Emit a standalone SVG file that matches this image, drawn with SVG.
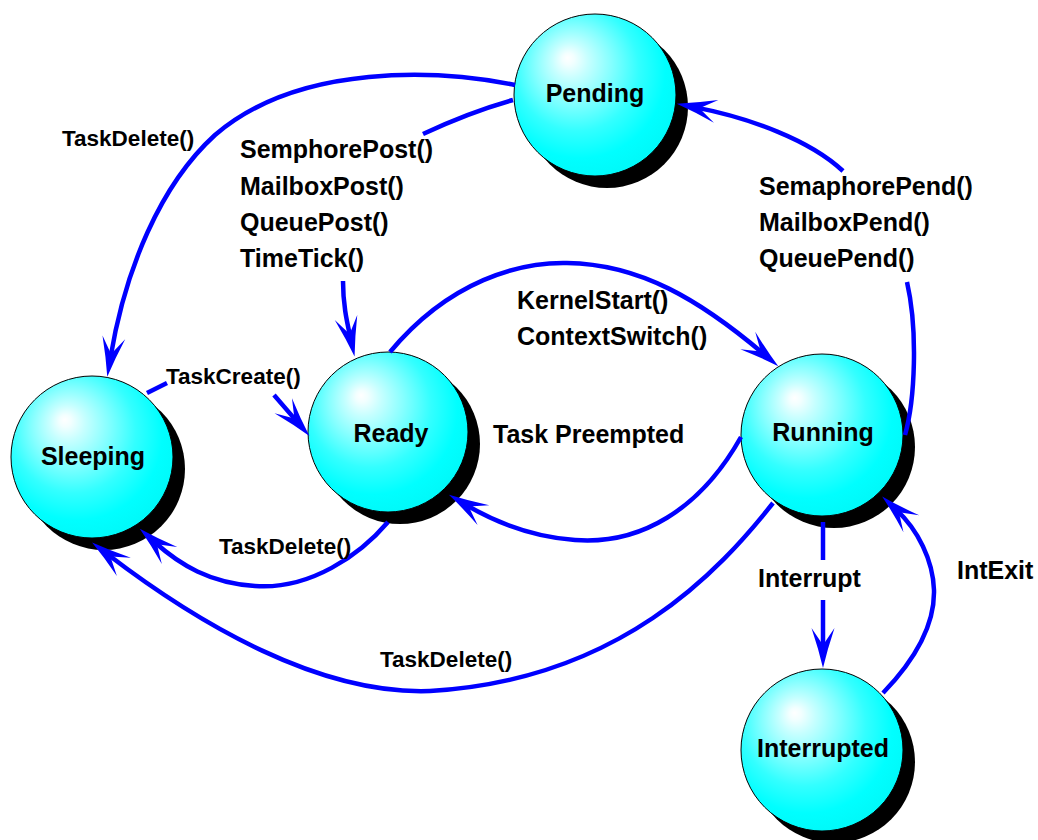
<svg xmlns="http://www.w3.org/2000/svg" width="1038" height="840" viewBox="0 0 1038 840">
<defs>
<radialGradient id="sph" cx="0.42" cy="0.38" r="0.62" fx="0.33" fy="0.27">
<stop offset="0" stop-color="#ffffff"/>
<stop offset="0.06" stop-color="#f2ffff"/>
<stop offset="0.18" stop-color="#c6ffff"/>
<stop offset="0.38" stop-color="#85ffff"/>
<stop offset="0.62" stop-color="#33ffff"/>
<stop offset="0.85" stop-color="#00ffff"/>
<stop offset="1" stop-color="#00fafa"/>
</radialGradient>
<marker id="ah" markerUnits="userSpaceOnUse" orient="auto" overflow="visible" markerWidth="1" markerHeight="1" refX="0" refY="0">
<path d="M19,0 Q0,-4.5 -21,-11.5 L-4,0 L-21,11.5 Q0,4.5 19,0 Z" fill="#0000ff"/>
</marker>
</defs>
<style>
.shadow{fill:#000}
.ball{fill:url(#sph);stroke:#000;stroke-width:1}
.nl{font-family:"Liberation Sans",Arial,sans-serif;font-weight:bold;font-size:25px;fill:#000;text-anchor:middle}
.lb{font-family:"Liberation Sans",Arial,sans-serif;font-weight:bold;font-size:25px;fill:#000}
.ls{font-family:"Liberation Sans",Arial,sans-serif;font-weight:bold;font-size:22.5px;fill:#000}
.c{fill:none;stroke:#0000ff;stroke-width:4.5}
.a{marker-end:url(#ah)}
</style>
<rect width="1038" height="840" fill="#fff"/>
<g id="pending">
<circle class="shadow" cx="607" cy="107" r="81"/>
<circle class="ball" cx="595" cy="95" r="81"/>
<text class="nl" x="595" y="102">Pending</text>
</g>
<g id="sleeping">
<circle class="shadow" cx="104" cy="469" r="81"/>
<circle class="ball" cx="92" cy="457" r="81"/>
<text class="nl" x="93" y="465">Sleeping</text>
</g>
<g id="ready">
<circle class="shadow" cx="400" cy="444" r="80"/>
<circle class="ball" cx="388" cy="432" r="80"/>
<text class="nl" x="391" y="442">Ready</text>
</g>
<g id="running">
<circle class="shadow" cx="834" cy="447" r="81"/>
<circle class="ball" cx="822" cy="435" r="81"/>
<text class="nl" x="823" y="441">Running</text>
</g>
<g id="interrupted">
<circle class="shadow" cx="834" cy="762" r="81"/>
<circle class="ball" cx="822" cy="750" r="81"/>
<text class="nl" x="823" y="757">Interrupted</text>
</g>
<g id="connectors">
<path class="c a" d="M515,85 C440,70 300,62 215,135 C160,185 125,270 110.4,358"/>
<path class="c a" d="M513,100 Q470,112 423,134 M343,281 C343,305 347,322 350.5,338"/>
<path class="c a" d="M905,435 C915,400 918,330 907,282 M843,171 C810,140 750,118 695.5,107.4"/>
<path class="c a" d="M390,352 C450,280 520,262 567,263 C640,264 700,300 763.8,354"/>
<path class="c a" d="M741,437 C700,510 640,545 575,540 C530,537 495,522 465.3,504.5"/>
<path class="c a" d="M388,522 C360,555 310,590 255,586 C210,583 180,565 153.9,541.5"/>
<path class="c a" d="M773,503 C720,570 620,680 430,691 C320,695 200,625 107.2,554"/>
<path class="c a" d="M823,522 L823,560 M823,600 L823,649"/>
<path class="c a" d="M883,693 C910,665 935,630 934,590 C933,560 918,530 896,509.4"/>
<path class="c a" d="M147,393 L167,383 M274,395 L297,421.6"/>
</g>
<g id="labels">
<text class="ls" x="62" y="146">TaskDelete()</text>
<text class="lb" x="240" y="158">SemphorePost()</text>
<text class="lb" x="240" y="195">MailboxPost()</text>
<text class="lb" x="240" y="231">QueuePost()</text>
<text class="lb" x="240" y="267">TimeTick()</text>
<text class="lb" x="759" y="195">SemaphorePend()</text>
<text class="lb" x="759" y="231">MailboxPend()</text>
<text class="lb" x="759" y="267">QueuePend()</text>
<text class="lb" x="517" y="309">KernelStart()</text>
<text class="lb" x="517" y="345">ContextSwitch()</text>
<text class="ls" x="166" y="384">TaskCreate()</text>
<text class="lb" x="493" y="443">Task Preempted</text>
<text class="ls" x="219" y="554">TaskDelete()</text>
<text class="lb" x="758" y="587">Interrupt</text>
<text class="lb" x="957" y="579">IntExit</text>
<text class="ls" x="380" y="667">TaskDelete()</text>
</g>
</svg>
